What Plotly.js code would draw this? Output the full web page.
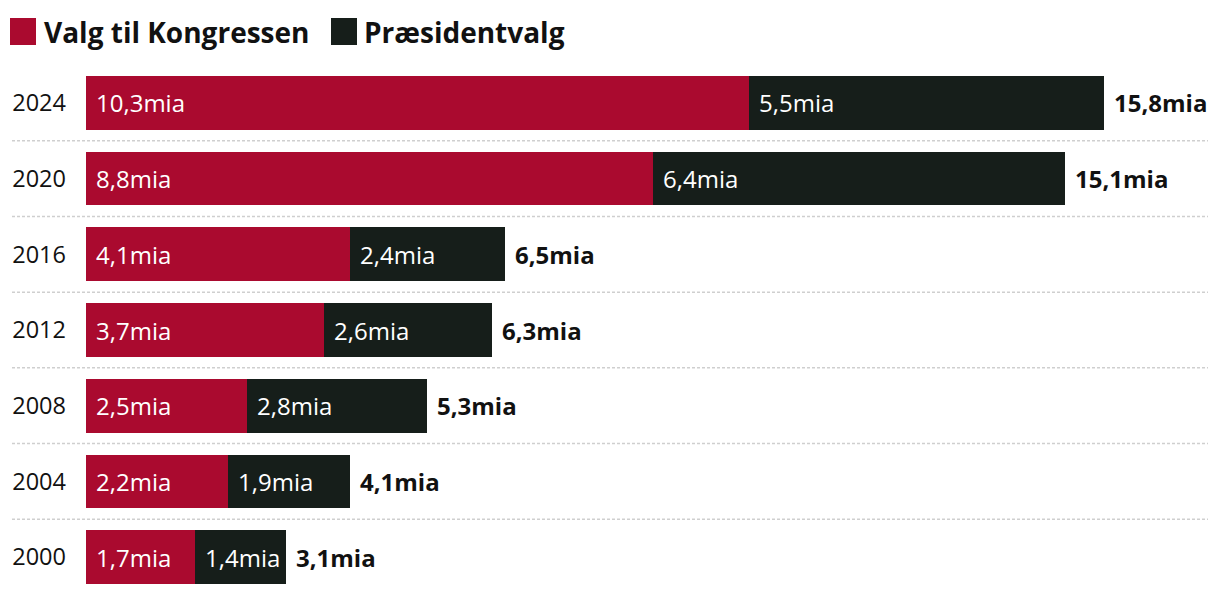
<!DOCTYPE html>
<html>
<head>
<meta charset="utf-8">
<script src="https://cdn.plot.ly/plotly-3.0.1.min.js"></script>
<style>
html,body{margin:0;padding:0;background:#fff;}
#chart{width:1220px;height:596px;}
</style>
</head>
<body>
<div id="chart"></div>
<script>
const years = ["2024", "2020", "2016", "2012", "2008", "2004", "2000"];
const congress = [10.3, 8.8, 4.1, 3.7, 2.5, 2.2, 1.7];
const president = [5.5, 6.4, 2.4, 2.6, 2.8, 1.9, 1.4];
const totals = [15.8, 15.1, 6.5, 6.3, 5.3, 4.1, 3.1];
const seriesNames = ["Valg til Kongressen", "Præsidentvalg"];
const colors = ["#aa0a2f", "#161e1a"];

const fmt = v => v.toFixed(1).replace(".", ",") + "mia";
const FONT = "Open Sans, sans-serif";
const catOrder = years.slice().reverse(); // bottom to top
const yIdx = yr => catOrder.indexOf(yr);

const traces = [
  {type: "bar", orientation: "h", y: years, x: congress, name: seriesNames[0],
   marker: {color: colors[0]}, hoverinfo: "none"},
  {type: "bar", orientation: "h", y: years, x: president, name: seriesNames[1],
   marker: {color: colors[1]}, hoverinfo: "none"}
];

const annotations = [];
years.forEach((yr, i) => {
  annotations.push({x: 0, y: yIdx(yr), xref: "x", yref: "y", text: fmt(congress[i]),
    xanchor: "left", yanchor: "middle", xshift: 8, showarrow: false, font: {family: FONT, size: 24, color: "#fff"}});
  annotations.push({x: congress[i], y: yIdx(yr), xref: "x", yref: "y", text: fmt(president[i]),
    xanchor: "left", yanchor: "middle", xshift: 8, showarrow: false, font: {family: FONT, size: 24, color: "#fff"}});
  annotations.push({x: congress[i] + president[i], y: yIdx(yr), xref: "x", yref: "y", text: "<b>" + fmt(totals[i]) + "</b>",
    xanchor: "left", yanchor: "middle", xshift: 8, showarrow: false, font: {family: FONT, size: 24, color: "#111"}});
});

const W = 1220, H = 596, L = 86, R = 7, T = 65, B = 1;
const pw = W - L - R, ph = H - T - B;
const px = v => (v - L) / pw;
const py = v => 1 - (v - T) / ph;

const shapes = [];
for (let i = 0; i < years.length - 1; i++) {
  shapes.push({type: "line", xref: "paper", yref: "y", x0: px(12), x1: px(1208), y0: i + 0.5, y1: i + 0.5,
    line: {color: "#cfcfcf", width: 1.5, dash: "3px,2px"}, layer: "below"});
}
// legend
const legendX = [10, 331];
const legendTextX = [42, 362];
seriesNames.forEach((n, k) => {
  shapes.push({type: "rect", xref: "paper", yref: "paper", x0: px(legendX[k]), x1: px(legendX[k] + 26),
    y0: py(45), y1: py(18), fillcolor: colors[k], line: {width: 0}});
  annotations.push({xref: "paper", yref: "paper", x: px(legendTextX[k]), y: py(32), xanchor: "left", yanchor: "middle",
    text: "<b>" + n + "</b>", showarrow: false, font: {family: FONT, size: 28, color: "#111"}});
});

const layout = {
  width: W, height: H,
  margin: {l: L, r: R, t: T, b: B, pad: 0},
  barmode: "stack", bargap: 0.29,
  showlegend: false,
  paper_bgcolor: "#fff", plot_bgcolor: "#fff",
  font: {family: FONT, color: "#111"},
  xaxis: {range: [0, 17.5], visible: false, fixedrange: true},
  yaxis: {type: "category", categoryorder: "array", categoryarray: catOrder, range: [-0.5, 6.5],
    showgrid: false, zeroline: false, showline: false, ticks: "",
    ticklabelstandoff: 19, tickfont: {family: FONT, size: 23.5, color: "#111"}},
  annotations: annotations,
  shapes: shapes
};

Plotly.newPlot("chart", traces, layout, {displayModeBar: false, staticPlot: true});
</script>
</body>
</html>
